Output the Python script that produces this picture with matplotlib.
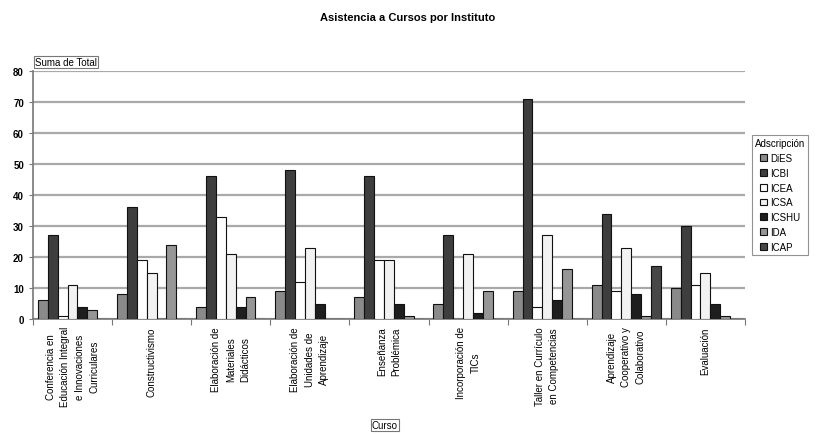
import numpy as np
import matplotlib
matplotlib.use("Agg")
import matplotlib.pyplot as plt

plt.rcParams['font.family'] = ['Liberation Sans', 'DejaVu Sans']

cursos = [
    "Conferencia en\nEducación Integral\ne Innovaciones\nCurriculares",
    "Constructivismo",
    "Elaboración de\nMateriales\nDidácticos",
    "Elaboración de\nUnidades de\nAprendizaje",
    "Enseñanza\nProblémica",
    "Incorporación de\nTICs",
    "Taller en Currículo\nen Competencias",
    "Aprendizaje\nCooperativo y\nColaborativo",
    "Evaluación",
]
institutos = ["DiES", "ICBI", "ICEA", "ICSA", "ICSHU", "IDA", "ICAP"]

dies = [6, 8, 4, 9, 7, 5, 9, 11, 10]
icbi = [27, 36, 46, 48, 46, 27, 71, 34, 30]
icea = [1, 19, 33, 12, 19, 0, 4, 9, 11]
icsa = [11, 15, 21, 23, 19, 21, 27, 23, 15]
icshu = [4, 0, 4, 5, 5, 2, 6, 8, 5]
ida = [3, 24, 7, 0, 1, 9, 16, 1, 1]
icap = [0, 0, 0, 0, 0, 0, 0, 17, 0]

series = [dies, icbi, icea, icsa, icshu, ida, icap]
colores = ["#8a8a8a", "#3e3e3e", "#ffffff", "#f2f2f2", "#1e1e1e", "#969696", "#474747"]

fig = plt.figure(figsize=(8.16, 4.35), dpi=100)
ax = fig.add_axes([33/816, 1-320/435, (745-33)/816, (320-72)/435])

x = np.arange(len(cursos))
w = 0.125
for i, (vals, name) in enumerate(zip(series, institutos)):
    ax.bar(x - 3*w + i*w, vals, width=w, color=colores[i], edgecolor="#111111",
           linewidth=0.8, label=name, zorder=3)

ax.set_xlim(-0.5, len(cursos) - 0.5)
ax.set_ylim(0, 80)
ax.set_yticks(range(0, 81, 10))
ax.yaxis.grid(True, color="#a9a9a9", linewidth=1.6, zorder=0)
ax.tick_params(axis='y', labelsize=7, length=3, color="#777777")
for t in ax.get_yticklabels():
    t.set_fontweight('bold')

ax.set_xticks(np.arange(len(cursos) + 1) - 0.5)
ax.set_xticklabels([])
ax.tick_params(axis='x', length=4, color="#777777")
for i, c in enumerate(cursos):
    ax.text(i, -2.3, c, rotation=90, ha='center', va='top', multialignment='center',
            fontsize=7, linespacing=1.55)

for s in ['top', 'right']:
    ax.spines[s].set_visible(False)
for s in ['left', 'bottom']:
    ax.spines[s].set_color("#777777")
    ax.spines[s].set_linewidth(1.2)

fig.text(0.5, 1-18/435, "Asistencia a Cursos por Instituto", ha='center', va='center',
         fontsize=8, fontweight='bold')
fig.text(35/816, 1-63/435, "Suma de Total", ha='left', va='center', fontsize=7,
         bbox=dict(boxstyle='square,pad=0.15', facecolor='white', edgecolor='#777777', linewidth=0.8))
fig.text(385/816, 1-426/435, "Curso", ha='center', va='center', fontsize=7,
         bbox=dict(boxstyle='square,pad=0.15', facecolor='white', edgecolor='#777777', linewidth=0.8))

leg = fig.legend(loc='upper left', bbox_to_anchor=(752/816, 1-136/435), title="Adscripción",
                 fontsize=7, title_fontsize=7, frameon=True, fancybox=False,
                 handlelength=0.7, handleheight=0.7, handletextpad=0.3, labelspacing=0.5,
                 borderpad=0.3, borderaxespad=0)
leg.get_frame().set_edgecolor('#777777')
leg.get_frame().set_linewidth(0.8)

fig.savefig("out.png", dpi=100)
